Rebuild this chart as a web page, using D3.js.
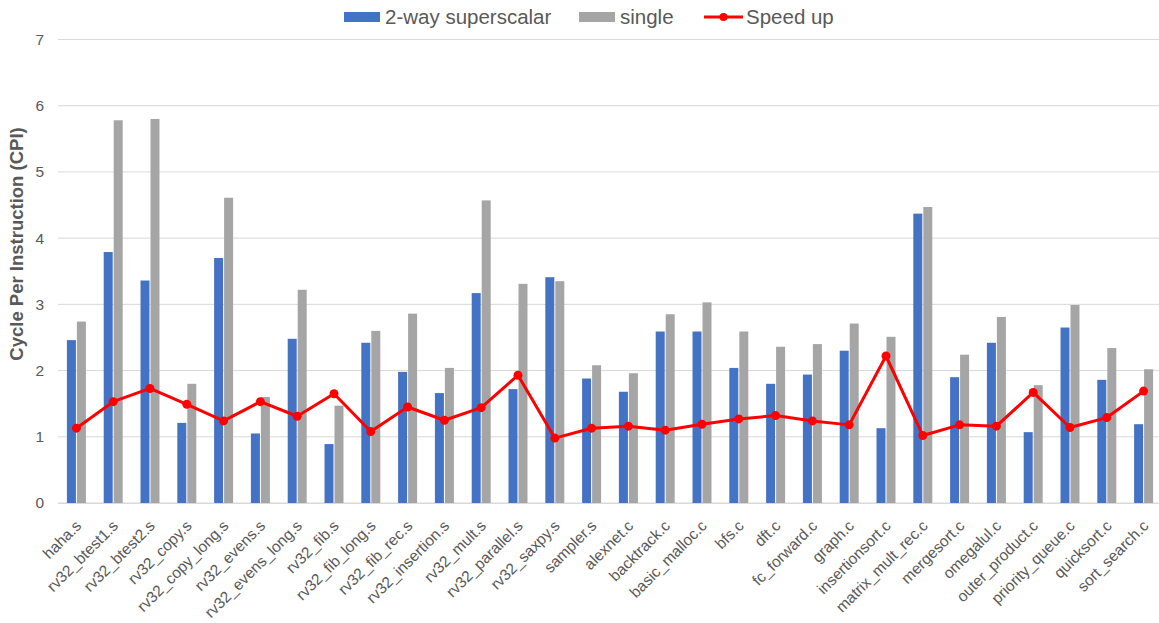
<!DOCTYPE html>
<html>
<head>
<meta charset="utf-8">
<script src="https://cdn.jsdelivr.net/npm/d3@7"></script>
<style>
  html, body { margin: 0; padding: 0; background: #fff; }
  svg { display: block; }
</style>
</head>
<body>
<svg id="chart" width="1159" height="623"></svg>
<script>
// Benchmarks (assembly tests first, then C programs)
const categories = [
  "haha.s", "rv32_btest1.s", "rv32_btest2.s", "rv32_copy.s", "rv32_copy_long.s",
  "rv32_evens.s", "rv32_evens_long.s", "rv32_fib.s", "rv32_fib_long.s", "rv32_fib_rec.s",
  "rv32_insertion.s", "rv32_mult.s", "rv32_parallel.s", "rv32_saxpy.s", "sampler.s",
  "alexnet.c", "backtrack.c", "basic_malloc.c", "bfs.c", "dft.c",
  "fc_forward.c", "graph.c", "insertionsort.c", "matrix_mult_rec.c", "mergesort.c",
  "omegalul.c", "outer_product.c", "priority_queue.c", "quicksort.c", "sort_search.c"
];

// CPI of the 2-way superscalar core
const superscalarCPI = [
  2.46, 3.79, 3.36, 1.21, 3.70, 1.05, 2.48, 0.89, 2.42, 1.98,
  1.66, 3.17, 1.72, 3.41, 1.88, 1.68, 2.59, 2.59, 2.04, 1.80,
  1.94, 2.30, 1.13, 4.37, 1.90, 2.42, 1.07, 2.65, 1.86, 1.19
];

// CPI of the single-issue core
const singleCPI = [
  2.74, 5.78, 5.80, 1.80, 4.61, 1.60, 3.22, 1.47, 2.60, 2.86,
  2.04, 4.57, 3.31, 3.35, 2.08, 1.96, 2.85, 3.03, 2.59, 2.36,
  2.40, 2.71, 2.51, 4.47, 2.24, 2.81, 1.78, 2.99, 2.34, 2.02
];

// Speed up of the superscalar core over the single-issue core
const speedUp = [
  1.13, 1.53, 1.73, 1.49, 1.24, 1.53, 1.31, 1.65, 1.08, 1.45,
  1.25, 1.44, 1.93, 0.98, 1.13, 1.16, 1.10, 1.19, 1.27, 1.32,
  1.24, 1.18, 2.22, 1.02, 1.18, 1.16, 1.67, 1.14, 1.29, 1.69
];

const yTicks = [0, 1, 2, 3, 4, 5, 6, 7];

const seriesNames = ["2-way superscalar", "single"];
const seriesColors = ["#4472C4", "#A5A5A5"];
const lineName = "Speed up";
const lineColor = "#FF0000";

const textColor = "#595959";
const gridColor = "#D9D9D9";
const fontFamily = "'Liberation Sans', Arial, sans-serif";

const svg = d3.select("#chart");

const plot = { left: 58, right: 1162, top: 39.5, bottom: 503 };

const x = d3.scaleBand()
  .domain(categories)
  .range([plot.left, plot.right])
  .paddingInner(0.484)
  .paddingOuter(0.242);

const xSub = d3.scaleBand()
  .domain(seriesNames)
  .range([0, x.bandwidth()])
  .paddingInner(0.1);

const y = d3.scaleLinear()
  .domain([0, 7])
  .range([plot.bottom, plot.top]);

// Horizontal gridlines
svg.append("g")
  .selectAll("line")
  .data(yTicks)
  .join("line")
  .attr("x1", plot.left)
  .attr("x2", plot.right)
  .attr("y1", d => y(d))
  .attr("y2", d => y(d))
  .attr("stroke", gridColor)
  .attr("stroke-width", 1);

// Y axis tick labels
const yAxis = d3.axisLeft(y).tickValues(yTicks).tickSize(0).tickPadding(0).tickFormat(d3.format("d"));
const yAxisG = svg.append("g")
  .attr("transform", `translate(${plot.left - 14},0)`)
  .call(yAxis);
yAxisG.select(".domain").remove();
yAxisG.selectAll("text")
  .attr("fill", textColor)
  .attr("font-family", fontFamily)
  .attr("font-size", 15.5);

// Y axis title
svg.append("text")
  .attr("transform", "translate(23,244) rotate(-90)")
  .attr("text-anchor", "middle")
  .attr("fill", textColor)
  .attr("font-family", fontFamily)
  .attr("font-size", 18.5)
  .attr("font-weight", "bold")
  .text("Cycle Per Instruction (CPI)");

// Bars
const barSeries = [superscalarCPI, singleCPI];
barSeries.forEach((values, si) => {
  svg.append("g")
    .selectAll("rect")
    .data(categories)
    .join("rect")
    .attr("x", (c) => x(c) + xSub(seriesNames[si]))
    .attr("width", xSub.bandwidth())
    .attr("y", (c, i) => y(values[i]))
    .attr("height", (c, i) => y(0) - y(values[i]))
    .attr("fill", seriesColors[si]);
});

// X axis (baseline + rotated category labels)
const xAxis = d3.axisBottom(x).tickSize(0).tickPadding(0);
const xAxisG = svg.append("g")
  .attr("transform", `translate(0,${plot.bottom})`)
  .call(xAxis);
xAxisG.select(".domain")
  .attr("stroke", gridColor)
  .attr("d", `M${plot.left},0.5H${plot.right}`);
xAxisG.selectAll(".tick text")
  .attr("fill", textColor)
  .attr("font-family", fontFamily)
  .attr("font-size", 15.5)
  .attr("text-anchor", "end")
  .attr("dy", "0.35em")
  .attr("transform", "translate(2,20) rotate(-45)");

// Speed up line with markers
const lineData = categories.map((c, i) => ({ c, v: speedUp[i] }));
const line = d3.line()
  .x(d => x(d.c) + x.bandwidth() / 2)
  .y(d => y(d.v));

svg.append("path")
  .datum(lineData)
  .attr("fill", "none")
  .attr("stroke", lineColor)
  .attr("stroke-width", 3)
  .attr("stroke-linejoin", "round")
  .attr("d", line);

svg.append("g")
  .selectAll("circle")
  .data(lineData)
  .join("circle")
  .attr("cx", d => x(d.c) + x.bandwidth() / 2)
  .attr("cy", d => y(d.v))
  .attr("r", 4.5)
  .attr("fill", lineColor);

// Legend
const legend = svg.append("g").attr("font-family", fontFamily).attr("font-size", 20.5).attr("fill", textColor);
const legendY = 17;
const legendItems = [
  { type: "rect", name: seriesNames[0], color: seriesColors[0], x: 344 },
  { type: "rect", name: seriesNames[1], color: seriesColors[1], x: 579 },
  { type: "line", name: lineName, color: lineColor, x: 704 }
];
legendItems.forEach(item => {
  const g = legend.append("g").attr("transform", `translate(${item.x},${legendY})`);
  if (item.type === "rect") {
    g.append("rect").attr("x", 0).attr("y", -5).attr("width", 36).attr("height", 10).attr("fill", item.color);
  } else {
    g.append("line").attr("x1", 0).attr("x2", 39).attr("y1", 0).attr("y2", 0)
      .attr("stroke", item.color).attr("stroke-width", 3);
    g.append("circle").attr("cx", 19.5).attr("cy", 0).attr("r", 4).attr("fill", item.color);
  }
  g.append("text")
    .attr("x", item.type === "rect" ? 41 : 42)
    .attr("y", 0)
    .attr("dy", "0.35em")
    .text(item.name);
});
</script>
</body>
</html>
